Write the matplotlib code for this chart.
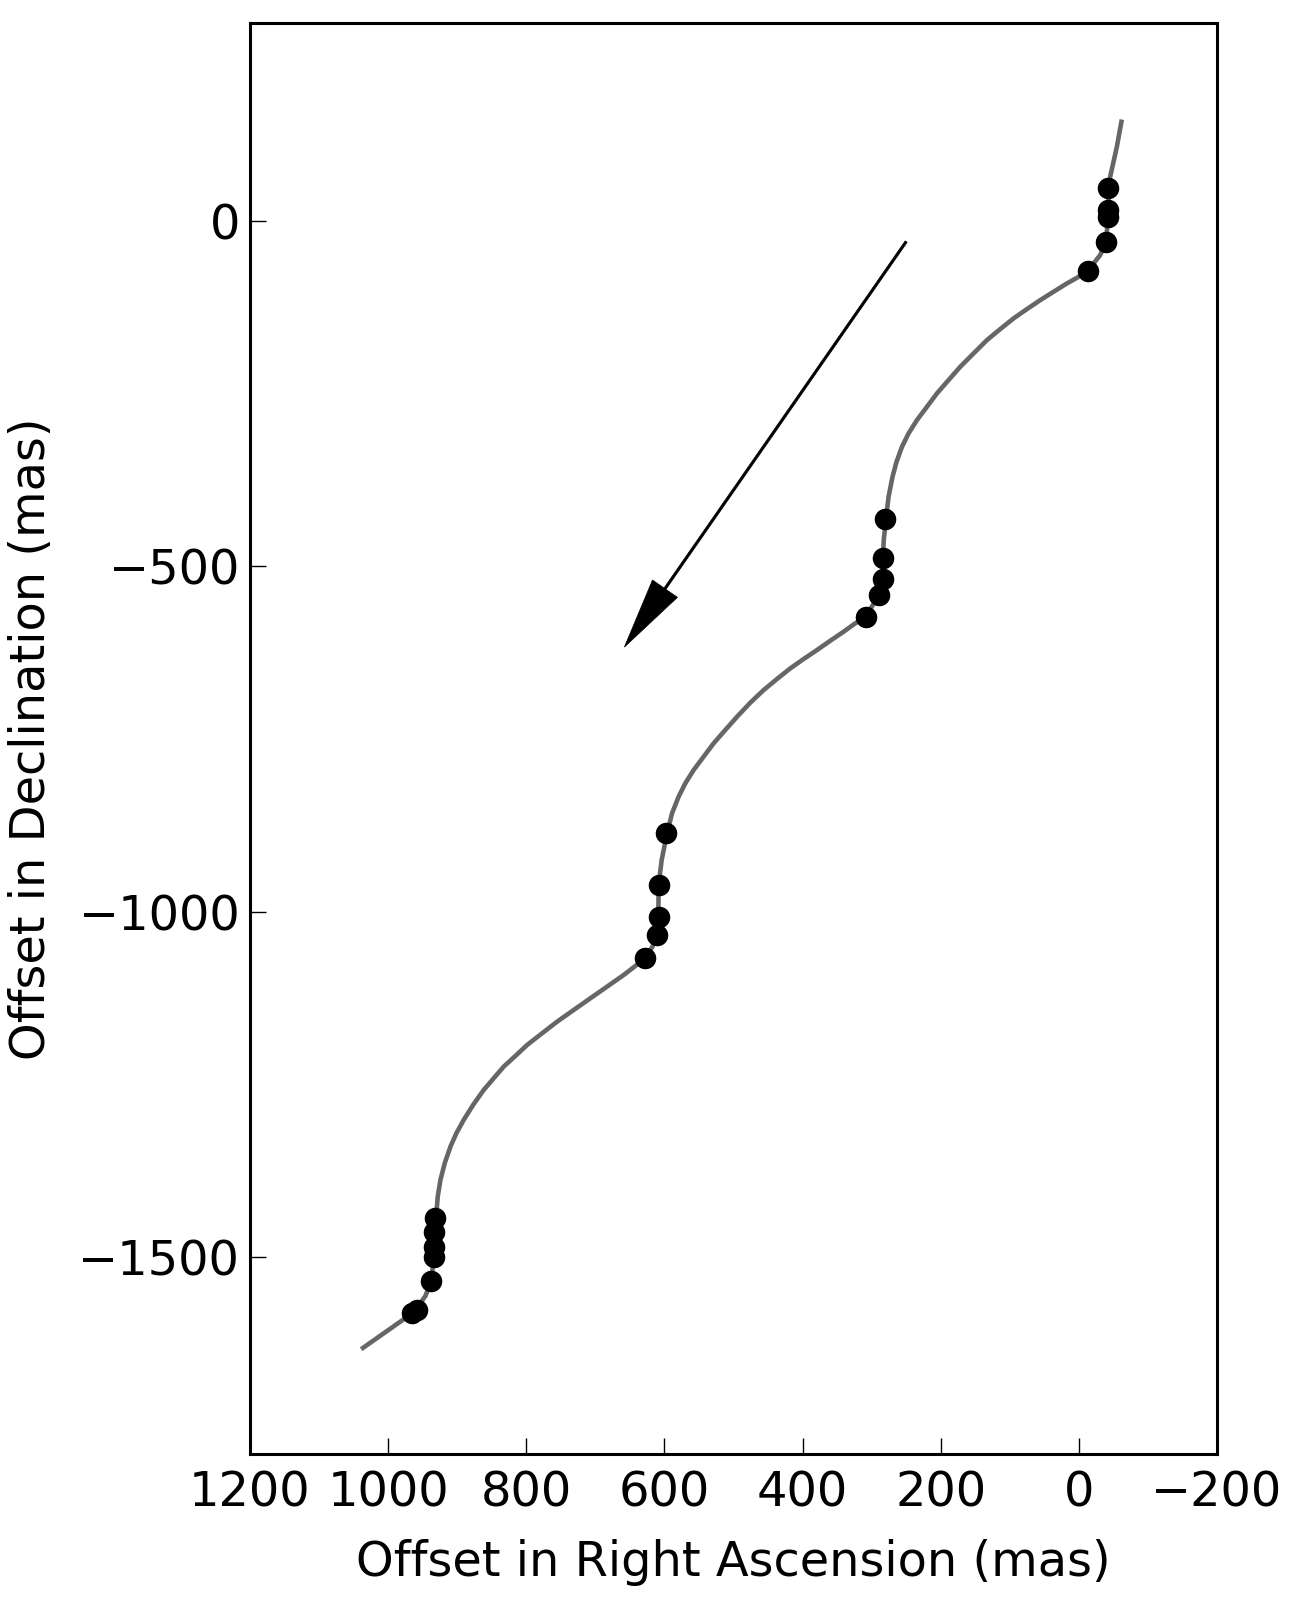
import matplotlib
matplotlib.use('Agg')
import matplotlib.pyplot as plt

# Model track (RA offset, Dec offset) in mas
ra_track = [-62.2, -55.0, -45.3, -42.8, -42.8, -39.5, -30.8, -13.0, 2.9, 17.4,
            36.8, 56.0, 75.3, 94.6, 113.9, 133.1, 152.5, 171.8, 188.7, 205.5,
            220.0, 234.4, 246.6, 256.1, 264.0, 269.8, 275.5, 278.9, 282.5, 283.6,
            283.6, 289.0, 309.3, 325.2, 340.7, 359.9, 379.2, 398.6, 417.8, 437.1,
            456.4, 475.7, 494.9, 511.9, 528.8, 543.3, 557.7, 569.8, 579.5, 589.0,
            596.2, 604.0, 608.4, 608.8, 610.7, 617.5, 630.1, 644.6, 659.0, 683.1,
            707.2, 731.4, 755.4, 777.1, 798.8, 815.8, 832.7, 847.2, 861.6, 877.0,
            890.6, 901.2, 909.8, 918.1, 924.3, 928.2, 930.1, 933.0, 934.0, 937.3,
            946.0, 961.9, 982.2, 1039.1]
dec_track = [146.7, 107.1, 63.7, 46.9, 15.5, -30.4, -49.6, -72.4, -82.5, -90.6,
             -102.7, -114.8, -127.8, -141.2, -156.7, -172.6, -191.9, -211.3, -230.5, -249.8,
             -269.2, -288.4, -307.7, -327.1, -348.8, -370.5, -399.4, -428.4, -462.1, -487.7,
             -519.0, -541.7, -573.1, -583.6, -594.8, -607.8, -621.3, -634.3, -647.8, -663.2,
             -679.2, -697.5, -717.8, -737.0, -756.3, -775.7, -794.9, -814.2, -833.6, -857.6,
             -886.5, -925.2, -961.4, -1007.7, -1033.7, -1051.1, -1068.9, -1080.5, -1091.6, -1108.5,
             -1125.3, -1142.3, -1159.2, -1176.0, -1192.9, -1208.8, -1224.3, -1241.1, -1258.0, -1279.7,
             -1301.4, -1320.7, -1340.1, -1364.1, -1388.3, -1412.4, -1436.5, -1475.1, -1499.3, -1534.4,
             -1556.1, -1578.9, -1593.3, -1633.3]

# Observed positions
ra_obs = [-42.8, -42.8, -42.8, -39.5, -13.0,
          281.3, 283.6, 283.6, 289.0, 308.3,
          597.2, 608.4, 608.4, 610.7, 627.6,
          931.5, 934.0, 934.0, 934.0, 937.3, 958.0, 965.3]
dec_obs = [46.9, 15.5, 4.9, -30.4, -72.4,
           -432.1, -487.7, -519.0, -541.7, -573.0,
           -886.5, -961.4, -1008.0, -1033.7, -1067.4,
           -1443.7, -1463.0, -1484.8, -1499.3, -1534.4, -1576.4, -1581.2]

# Proper-motion arrow (start, end)
arrow_start = (250.0, -30.0)
arrow_end = (658.0, -617.0)

xticks = [1200, 1000, 800, 600, 400, 200, 0, -200]
yticks = [0, -500, -1000, -1500]
xlim = (1200, -200)
ylim = (-1785, 286)

W, H = 1303, 1600
fig = plt.figure(figsize=(W / 100, H / 100), dpi=100)
ax = fig.add_axes([250 / W, 1 - 1454 / H, (1217 - 250) / W, (1454 - 23.3) / H])

ax.plot(ra_track, dec_track, color='#666666', lw=3.3, solid_capstyle='butt',
        solid_joinstyle='round', zorder=2)
ax.plot(ra_obs, dec_obs, 'o', color='black', ms=14.5, mew=1, zorder=3)

ax.arrow(arrow_start[0], arrow_start[1],
         arrow_end[0] - arrow_start[0], arrow_end[1] - arrow_start[1],
         width=3.5, head_width=44, head_length=103, length_includes_head=True,
         fc='black', ec='black', lw=0.5, zorder=4)

ax.set_xlim(*xlim)
ax.set_ylim(*ylim)
ax.set_xticks(xticks)
ax.set_yticks(yticks)
ax.set_xticklabels([str(t).replace('-', '\u2212') for t in xticks])
ax.set_yticklabels([str(t).replace('-', '\u2212') for t in yticks])

for s in ax.spines.values():
    s.set_linewidth(2.2)
ax.tick_params(direction='in', length=11.3, width=1, top=False, right=False,
               labelsize=34.5)
ax.tick_params(axis='x', pad=11)
ax.tick_params(axis='y', pad=7)

fig.text(733.5 / W, 1 - 1562.6 / H, 'Offset in Right Ascension (mas)',
         ha='center', va='center', fontsize=34.5)
fig.text(32 / W, 1 - 738.7 / H, 'Offset in Declination (mas)',
         ha='center', va='center', rotation=90, fontsize=34.5)

fig.savefig('out.png', dpi=100, facecolor='white')
